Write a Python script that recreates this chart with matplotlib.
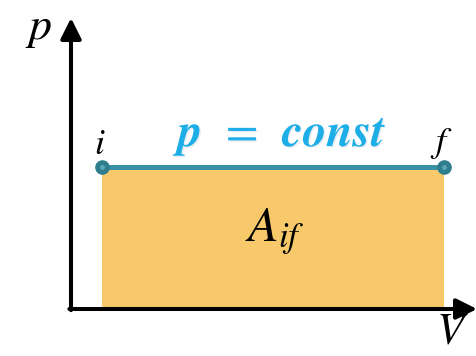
import matplotlib.pyplot as plt
import matplotlib.patheffects as pe

plt.rcParams['mathtext.fontset'] = 'stix'

# isobaric process: constant pressure between states i and f
V_states = [0.76, 9.19]
p_states = [4.88, 4.88]
state_labels = ['i', 'f']

fill_color = '#F8C96A'
line_color = '#3A91A3'
dot_color = '#2F7E8E'
text_blue = '#1DAEE8'

fig = plt.figure(figsize=(4.77, 3.56), dpi=100)
ax = fig.add_axes([71 / 477, 47 / 356, 406 / 477, 291 / 356])
ax.set_xlim(0, 10)
ax.set_ylim(0, 10)
ax.axis('off')

# work area under the isobar
ax.fill_between(V_states, p_states, 0, color=fill_color, lw=0, zorder=1)
ax.plot(V_states, p_states, color=line_color, lw=3.6, solid_capstyle='butt', zorder=2)
ax.plot(V_states, p_states, 'o', ms=9.5, color=dot_color, zorder=3)
ax.plot(V_states, p_states, 'o', ms=2.5, color='#5BA9B8', zorder=4)

# axes with arrows
arrow = dict(arrowstyle='-|>,head_length=0.7,head_width=0.35', lw=2.9, color='black',
             shrinkA=0, shrinkB=0, mutation_scale=18)
ax.annotate('', xy=(0, 1), xytext=(0, -0.004), xycoords='axes fraction', arrowprops=arrow, zorder=5)
ax.annotate('', xy=(1, 0), xytext=(-0.004, 0), xycoords='axes fraction', arrowprops=arrow, zorder=5)

ax.text(-0.81, 9.66, '$p$', fontsize=33, ha='center', va='center')
ax.text(9.38, -0.76, '$V$', fontsize=32, ha='center', va='center')

for V, p, lab in zip(V_states, p_states, state_labels):
    ax.text(V - 0.06, p + 0.8, f'${lab}$', fontsize=26, ha='center', va='center')

ax.text(5.28, 5.95, r'$\mathbfit{p}\;\:=\;\:\mathbfit{const}$', fontsize=34, color=text_blue,
        ha='center', va='center',
        path_effects=[pe.withSimplePatchShadow(offset=(1, -1), shadow_rgbFace='#9ab', alpha=0.2)])

ax.text(5.02, 2.65, '$A_{if}$', fontsize=36, ha='center', va='center')

fig.savefig('out.png', dpi=100)
